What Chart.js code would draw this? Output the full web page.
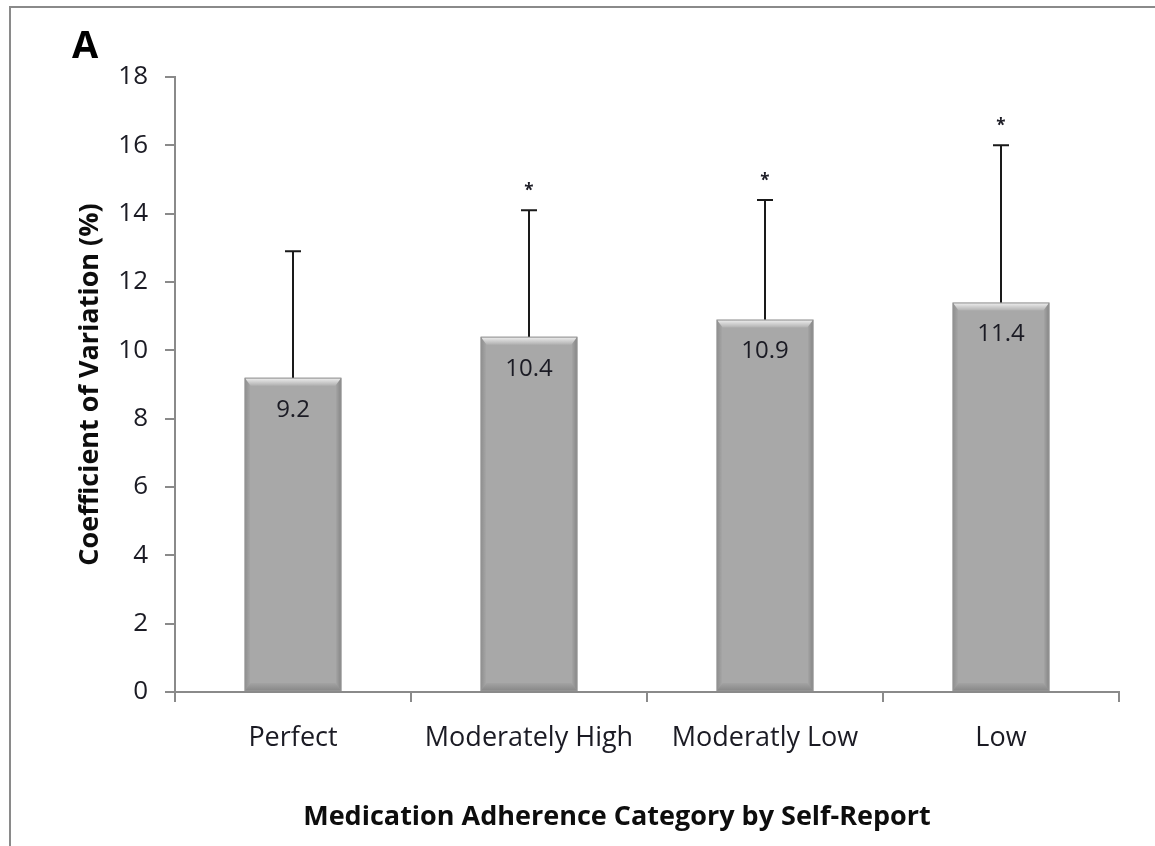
<!DOCTYPE html>
<html>
<head>
<meta charset="utf-8">
<script src="https://cdn.jsdelivr.net/npm/chart.js@4/dist/chart.umd.min.js"></script>
<style>
  html, body { margin: 0; padding: 0; background: #fff; }
  #wrap { position: relative; width: 1155px; height: 846px; }
</style>
</head>
<body>
<div id="wrap"><canvas id="c" width="1155" height="846"></canvas></div>
<script>
// Adherence categories and mean coefficient of variation (%)
const categories = ['Perfect', 'Moderately High', 'Moderatly Low', 'Low'];
const meanCV = [9.2, 10.4, 10.9, 11.4];
// Upper end of each error bar (mean + SD)
const errorTop = [12.9, 14.1, 14.4, 16.0];
// Significance markers above the error bars
const significance = ['', '*', '*', '*'];
const yTicks = [0, 2, 4, 6, 8, 10, 12, 14, 16, 18];
const xTitle = 'Medication Adherence Category by Self-Report';
const yTitle = 'Coefficient of Variation (%)';

const FONT = '"Open Sans", "Noto Sans", sans-serif';
const TEXT = '#1b1b24';

// Frame, panel letter, axis titles, bevel, error bars, value labels, stars
const decorations = {
  id: 'decorations',
  beforeDraw(chart) {
    const ctx = chart.ctx;
    const area = chart.chartArea;
    ctx.save();
    ctx.strokeStyle = '#8a8a8a';
    ctx.lineWidth = 2;
    ctx.strokeRect(10, 7, 1200, 900);
    ctx.fillStyle = '#000';
    ctx.font = 'bold 38px ' + FONT;
    ctx.textAlign = 'center';
    ctx.textBaseline = 'middle';
    ctx.fillText('A', 85, 47);

    ctx.fillStyle = '#0d0d0d';
    ctx.font = 'bold 27px ' + FONT;
    ctx.fillText(xTitle, (area.left + area.right) / 2 - 30, 817);
    ctx.translate(90, (area.top + area.bottom) / 2);
    ctx.rotate(-Math.PI / 2);
    ctx.fillText(yTitle, 0, 0);
    ctx.restore();
  },
  afterDatasetsDraw(chart) {
    const ctx = chart.ctx;
    const meta = chart.getDatasetMeta(0);
    const y = chart.scales.y;
    ctx.save();
    meta.data.forEach((bar, i) => {
      const half = bar.width / 2;
      const l = bar.x - half, r = bar.x + half;
      const t = bar.y, b = bar.base;
      const bv = 8, sv = 6;
      // bevel: light top, soft darker sides and bottom
      const topGrad = ctx.createLinearGradient(0, t, 0, t + bv);
      topGrad.addColorStop(0, 'rgba(255,255,255,0.85)');
      topGrad.addColorStop(1, 'rgba(255,255,255,0.1)');
      ctx.fillStyle = topGrad;
      ctx.beginPath();
      ctx.moveTo(l, t); ctx.lineTo(r, t); ctx.lineTo(r - sv, t + bv); ctx.lineTo(l + sv, t + bv); ctx.closePath();
      ctx.fill();

      const leftGrad = ctx.createLinearGradient(l, 0, l + sv, 0);
      leftGrad.addColorStop(0, 'rgba(0,0,0,0.16)');
      leftGrad.addColorStop(1, 'rgba(0,0,0,0)');
      ctx.fillStyle = leftGrad;
      ctx.beginPath();
      ctx.moveTo(l, t); ctx.lineTo(l + sv, t + bv); ctx.lineTo(l + sv, b - bv); ctx.lineTo(l, b); ctx.closePath();
      ctx.fill();

      const rightGrad = ctx.createLinearGradient(r, 0, r - sv, 0);
      rightGrad.addColorStop(0, 'rgba(0,0,0,0.22)');
      rightGrad.addColorStop(1, 'rgba(0,0,0,0)');
      ctx.fillStyle = rightGrad;
      ctx.beginPath();
      ctx.moveTo(r, t); ctx.lineTo(r - sv, t + bv); ctx.lineTo(r - sv, b - bv); ctx.lineTo(r, b); ctx.closePath();
      ctx.fill();

      const botGrad = ctx.createLinearGradient(0, b, 0, b - bv);
      botGrad.addColorStop(0, 'rgba(0,0,0,0.2)');
      botGrad.addColorStop(1, 'rgba(0,0,0,0.03)');
      ctx.fillStyle = botGrad;
      ctx.beginPath();
      ctx.moveTo(l, b); ctx.lineTo(l + sv, b - bv); ctx.lineTo(r - sv, b - bv); ctx.lineTo(r, b); ctx.closePath();
      ctx.fill();

      ctx.strokeStyle = '#939393';
      ctx.lineWidth = 1;
      ctx.strokeRect(l + 0.5, t + 0.5, bar.width - 1, b - t - 1);

      // error bar (upper only)
      const yTop = y.getPixelForValue(errorTop[i]);
      ctx.strokeStyle = '#1a1a1a';
      ctx.lineWidth = 2;
      ctx.beginPath();
      ctx.moveTo(bar.x, t);
      ctx.lineTo(bar.x, yTop);
      ctx.moveTo(bar.x - 8, yTop);
      ctx.lineTo(bar.x + 8, yTop);
      ctx.stroke();

      // significance star
      if (significance[i]) {
        ctx.fillStyle = TEXT;
        ctx.font = 'bold 17px ' + FONT;
        ctx.textAlign = 'center';
        ctx.textBaseline = 'middle';
        ctx.fillText(significance[i], bar.x, yTop - 19);
      }

      // value label inside top of bar
      ctx.fillStyle = TEXT;
      ctx.font = '24px ' + FONT;
      ctx.textAlign = 'center';
      ctx.textBaseline = 'middle';
      ctx.fillText(meanCV[i].toFixed(1), bar.x, t + 32);
    });
    ctx.restore();
  }
};

new Chart(document.getElementById('c'), {
  type: 'bar',
  data: {
    labels: categories,
    datasets: [{
      data: meanCV,
      backgroundColor: '#a8a8a8',
      borderWidth: 0,
      categoryPercentage: 1,
      barPercentage: 0.41
    }]
  },
  options: {
    responsive: false,
    animation: false,
    devicePixelRatio: 1,
    layout: { padding: { top: 77, right: 36, left: 0, bottom: 0 } },
    plugins: { legend: { display: false }, tooltip: { enabled: false } },
    scales: {
      x: {
        grid: { offset: true, drawOnChartArea: false, tickLength: 10, color: '#8a8a8a', lineWidth: 2 },
        border: { color: '#8a8a8a', width: 2 },
        ticks: { color: TEXT, font: { family: FONT, size: 27 }, padding: 20 },
        afterFit(scale) { scale.height = 154; }
      },
      y: {
        min: 0,
        max: 18,
        afterBuildTicks(scale) { scale.ticks = yTicks.map(v => ({ value: v })); },
        grid: { drawOnChartArea: false, tickLength: 10, color: '#8a8a8a', lineWidth: 2 },
        border: { color: '#8a8a8a', width: 2 },
        ticks: { color: TEXT, font: { family: FONT, size: 26 }, padding: 17 },
        afterFit(scale) { scale.width = 175; }
      }
    }
  },
  plugins: [decorations]
});
</script>
</body>
</html>
